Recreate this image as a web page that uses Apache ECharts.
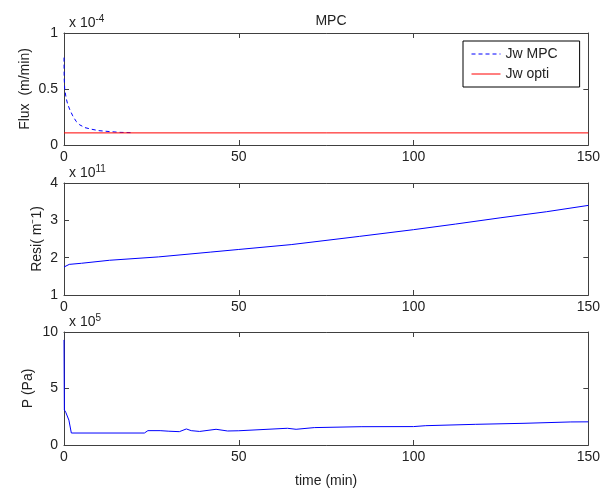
<!DOCTYPE html>
<html><head><meta charset="utf-8">
<script src="https://cdn.jsdelivr.net/npm/echarts@6/dist/echarts.min.js"></script>
<style>html,body{margin:0;padding:0;background:#fff}#c{width:603px;height:491px}</style>
</head><body><div id="c"></div>
<script>
// Panel 1: Flux (x 10^-4 m/min)
const tMPC  = [0, 0.05, 0.2, 0.6, 1.0, 1.6, 2.5, 3.5, 4.5, 6, 8, 10, 13, 16, 19.7];
const jwMPC = [0.78, 0.6, 0.5, 0.42, 0.37, 0.32, 0.26, 0.21, 0.18, 0.155, 0.14, 0.128, 0.12, 0.113, 0.11];
const tOpti = [0, 150];
const jwOpti = [0.108, 0.108];
// Panel 2: Resistance (x 10^11 m^-1)
const tResi = [0, 0.5, 1.5, 5, 13, 27, 42, 50, 65, 84.5, 100, 112, 125, 138, 150];
const resi  = [1.75, 1.78, 1.82, 1.85, 1.93, 2.02, 2.15, 2.22, 2.35, 2.57, 2.75, 2.9, 3.07, 3.23, 3.40];
// Panel 3: Pressure (x 10^5 Pa)
const tP = [0, 0.1, 0.5, 1.4, 2.1, 23, 24, 27.5, 30, 33, 35, 36.4, 38.8, 43.5, 46.8, 50, 63.9, 66.4, 71.6, 85, 100, 103.5, 117.8, 131.6, 145, 150];
const pVals = [9.3, 3.1, 2.9, 2.2, 1.06, 1.06, 1.27, 1.27, 1.22, 1.18, 1.42, 1.27, 1.2, 1.39, 1.24, 1.26, 1.48, 1.39, 1.54, 1.62, 1.63, 1.71, 1.83, 1.92, 2.04, 2.05];
const xTicks = [0, 50, 100, 150];

const pair = (t, v) => t.map((x, i) => [x, v[i]]);
const FONT = 'Liberation Sans';
const FS = 14;
const TXT = '#222';
const AX = '#404040';

const grids = [
  {left: 64, right: 14, top: 33, height: 112},
  {left: 64, right: 14, top: 183, height: 112},
  {left: 64, right: 14, top: 332, height: 113}
];
const yRanges = [[0, 1, 0.5], [1, 4, 1], [0, 10, 5]];
const yNames = ['Flux  (m/min)', 'Resi( m\u207B1)', 'P (Pa)'];
const yNameGaps = [32, 20, 29];

const xAxes = [], yAxes = [];
grids.forEach((g, i) => {
  xAxes.push({type: 'value', gridIndex: i, min: 0, max: 150, interval: 50, position: 'bottom',
    axisLine: {show: true, onZero: false, lineStyle: {color: AX}},
    axisTick: {inside: true, length: 5, lineStyle: {color: AX}},
    axisLabel: {color: TXT, fontFamily: FONT, fontSize: FS, margin: 5},
    splitLine: {show: false},
    name: i === 2 ? 'time (min)' : '', nameLocation: 'middle', nameGap: 29,
    nameTextStyle: {color: TXT, fontFamily: FONT, fontSize: FS}});
  xAxes.push({type: 'value', gridIndex: i, min: 0, max: 150, interval: 50, position: 'top',
    axisLine: {show: true, onZero: false, lineStyle: {color: AX}},
    axisTick: {inside: true, length: 5, lineStyle: {color: AX}},
    axisLabel: {show: false}, splitLine: {show: false}});
  const [mn, mx, iv] = yRanges[i];
  yAxes.push({type: 'value', gridIndex: i, min: mn, max: mx, interval: iv, position: 'left',
    axisLine: {show: true, onZero: false, lineStyle: {color: AX}},
    axisTick: {inside: true, length: 5, lineStyle: {color: AX}},
    axisLabel: {color: TXT, fontFamily: FONT, fontSize: FS, margin: 6},
    splitLine: {show: false},
    name: yNames[i], nameLocation: 'middle', nameGap: yNameGaps[i], nameMoveOverlap: false,
    nameTextStyle: {color: TXT, fontFamily: FONT, fontSize: FS}});
  yAxes.push({type: 'value', gridIndex: i, min: mn, max: mx, interval: iv, position: 'right',
    axisLine: {show: true, onZero: false, lineStyle: {color: AX}},
    axisTick: {inside: true, length: 5, lineStyle: {color: AX}},
    axisLabel: {show: false}, splitLine: {show: false}});
});

const mult = (left, top, exp) => ({
  left: left, top: top,
  text: '{b|x 10}{s|' + exp + '}',
  textStyle: {fontWeight: 'normal', rich: {
    b: {fontFamily: FONT, fontSize: FS, fontWeight: 'normal', color: TXT, verticalAlign: 'bottom', lineHeight: 16},
    s: {fontFamily: FONT, fontSize: 10, fontWeight: 'normal', color: TXT, verticalAlign: 'top', lineHeight: 16, padding: [0, 0, 8, 0]}
  }}
});

const option = {
  animation: false,
  backgroundColor: '#fff',
  title: [
    {text: 'MPC', left: 326, top: 9, textAlign: 'center',
      textStyle: {fontFamily: FONT, fontSize: FS, fontWeight: 'normal', color: TXT}},
    mult(64, 9, '-4'),
    mult(64, 159, '11'),
    mult(64, 308, '5')
  ],
  legend: {
    data: [
      {name: 'Jw MPC', itemStyle: {opacity: 0}, lineStyle: {color: '#0000ff', width: 1, type: [4, 3]}},
      {name: 'Jw opti', itemStyle: {opacity: 0}, lineStyle: {color: '#ff0000', width: 1}}
    ],
    orient: 'vertical', left: 463, top: 41,
    backgroundColor: '#fff', borderColor: '#000', borderWidth: 1,
    padding: [6, 22, 6, 8], itemGap: 6, itemWidth: 29, itemHeight: 15,
    textStyle: {fontFamily: FONT, fontSize: FS, color: TXT}
  },
  grid: grids,
  xAxis: xAxes,
  yAxis: yAxes,
  series: [
    {name: 'Jw MPC', type: 'line', xAxisIndex: 0, yAxisIndex: 0, data: pair(tMPC, jwMPC),
      symbol: 'none', lineStyle: {color: '#0000ff', width: 1, type: [4, 3]}, itemStyle: {color: '#0000ff'}},
    {name: 'Jw opti', type: 'line', xAxisIndex: 0, yAxisIndex: 0, data: pair(tOpti, jwOpti),
      symbol: 'none', lineStyle: {color: '#ff0000', width: 1}, itemStyle: {color: '#ff0000'}},
    {name: 'Resi', type: 'line', xAxisIndex: 2, yAxisIndex: 2, data: pair(tResi, resi),
      symbol: 'none', lineStyle: {color: '#0000ff', width: 1}},
    {name: 'P', type: 'line', xAxisIndex: 4, yAxisIndex: 4, data: pair(tP, pVals),
      symbol: 'none', lineStyle: {color: '#0000ff', width: 1}}
  ]
};
echarts.init(document.getElementById('c'), null, {renderer: 'canvas'}).setOption(option);
</script></body></html>
